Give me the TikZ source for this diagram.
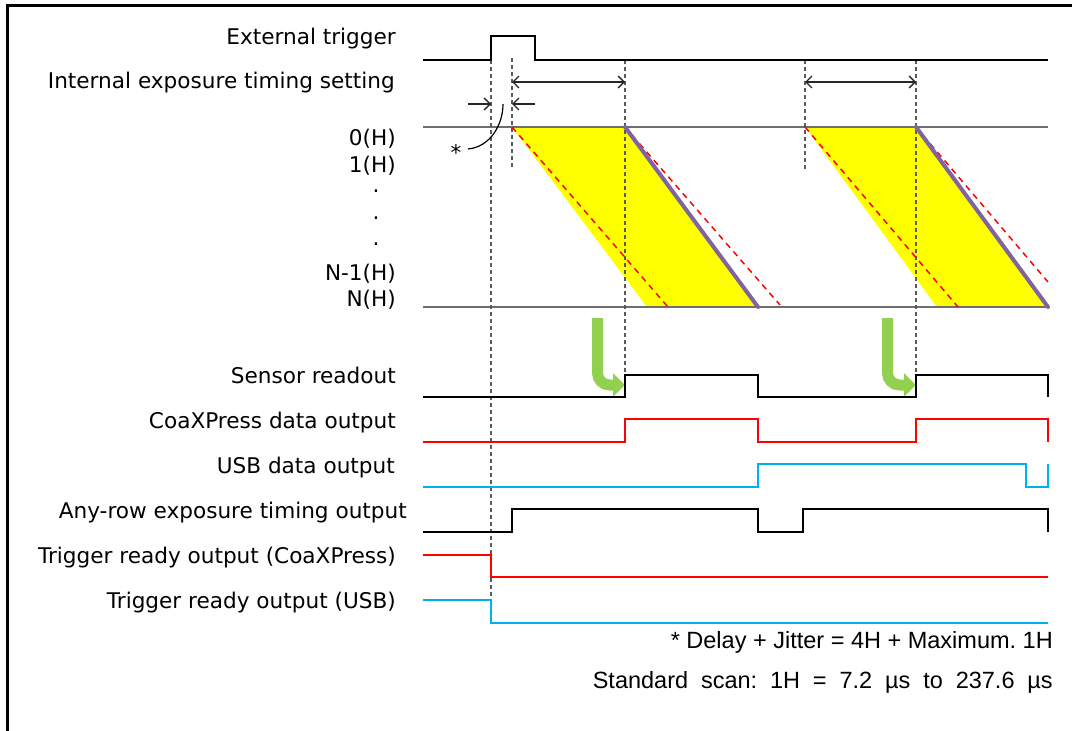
\documentclass[tikz,border=0pt]{standalone}
\usepackage{fontspec}
\setmainfont{DejaVu Sans}
\newfontfamily\arialfont{Liberation Sans}
\usetikzlibrary{arrows.meta}
\frenchspacing
\definecolor{sigred}{RGB}{255,0,0}
\definecolor{sigblue}{RGB}{0,176,240}
\definecolor{expyellow}{RGB}{255,255,0}
\definecolor{readpurple}{RGB}{128,100,162}
\definecolor{arrowgreen}{RGB}{146,208,80}
\definecolor{guidegray}{RGB}{90,90,90}
\definecolor{rowgray}{RGB}{110,110,110}
\tikzset{
  lbl/.style={font=\fontsize{21.6}{25}\selectfont, anchor=base east, inner sep=0pt},
  dotlbl/.style={font=\fontsize{21.6}{25}\selectfont, anchor=base, inner sep=0pt},
  fnote/.style={font=\arialfont\fontsize{23.5}{27}\selectfont, anchor=base east, inner sep=0pt},
  sig/.style={line width=2.5pt, line join=miter},
  guide/.style={draw=guidegray, line width=1.2pt, dash pattern=on 4pt off 3pt},
  rowline/.style={draw=rowgray, line width=1.5pt},
  reddash/.style={draw=sigred, line width=1.5pt, dash pattern=on 6pt off 5pt},
  readline/.style={draw=readpurple, line width=4pt, line cap=round},
  dimarrow/.style={line width=1.3pt, draw=black!85},
  barb/.tip={Straight Barb[length=6pt,width=12pt]},
  greenarrow/.style={draw=arrowgreen, line width=11pt, rounded corners=12pt, -{Triangle[length=12pt,width=23pt]}}
}
\begin{document}
\begin{tikzpicture}[x=1pt,y=-1pt]
\useasboundingbox (0,0) rectangle (1072,731);
% frame
\draw[line width=3pt] (7,731) -- (7,5.5) -- (1072,5.5);

% labels
\node[lbl] (lext) at (396,44) {External trigger};
\node[lbl] (lint) at (395,88) {Internal exposure timing setting};
\node[lbl] (l0) at (396,145) {0(H)};
\node[lbl] (l1) at (396,172) {1(H)};
\node[dotlbl] (d1) at (376,192) {.};
\node[dotlbl] (d2) at (376,219) {.};
\node[dotlbl] (d3) at (376,245) {.};
\node[lbl] (lN1) at (396,280) {N-1(H)};
\node[lbl] (lN) at (396,306) {N(H)};
\node[lbl] (lsr) at (396,383) {Sensor readout};
\node[lbl] (lcx) at (396,428) {CoaXPress data output};
\node[lbl] (lusb) at (395,473) {USB data output};
\node[lbl] (lany) at (407,518) {Any-row exposure timing output};
\node[lbl] (ltrc) at (396,563) {Trigger ready output (CoaXPress)};
\node[lbl] (ltru) at (396,608) {Trigger ready output (USB)};

% exposure areas
\fill[expyellow] (512,127) -- (625,127) -- (758,307) -- (647,307) -- cycle;
\fill[expyellow] (805,127) -- (916,127) -- (1048,307) -- (937,307) -- cycle;

% row lines
\draw[rowline] (423,127) -- (1048,127);
\draw[rowline] (423,307) -- (1048,307);

% guides
\draw[guide] (491,60) -- (491,600);
\draw[guide] (512,58) -- (512,170);
\draw[guide] (625,60) -- (625,375);
\draw[guide] (805,60) -- (805,170);
\draw[guide] (916,60) -- (916,375);

% red dashed and purple readout lines
\draw[reddash] (512,127) -- (668,307);
\draw[reddash] (625,127) -- (780,305);
\draw[reddash] (805,127) -- (958,307);
\draw[reddash] (916,127) -- (1048,282);
\draw[readline] (625,127) -- (758,307);
\draw[readline] (916,127) -- (1048,307);

% dimension arrows
\draw[dimarrow, barb-barb] (512,82) -- (625,82);
\draw[dimarrow, barb-barb] (805,82) -- (916,82);
\draw[dimarrow, -barb] (468,104) -- (491,104);
\draw[dimarrow, -barb] (535,104) -- (512,104);
\draw[line width=1.2pt] (468,149) .. controls (490,147) and (503,125) .. (503,104);
\node[font=\fontsize{21.6}{25}\selectfont, anchor=base, inner sep=0pt] (ast) at (456,160) {*};

% green arrows
\draw[greenarrow] (597.5,318) -- (597.5,385) -- (625,385);
\draw[greenarrow] (887.5,318) -- (887.5,385) -- (916,385);

% waveforms
\draw[sig] (423,60) -- (491,60) -- (491,36) -- (535,36) -- (535,60) -- (1048,60);
\draw[sig] (423,397) -- (625,397) -- (625,375) -- (758,375) -- (758,397) -- (916,397) -- (916,375) -- (1048,375) -- (1048,397);
\draw[sig, sigred] (423,442) -- (625,442) -- (625,419) -- (758,419) -- (758,442) -- (916,442) -- (916,419) -- (1048,419) -- (1048,442);
\draw[sig, sigblue] (423,487) -- (758,487) -- (758,464) -- (1026,464) -- (1026,487) -- (1048,487) -- (1048,464);
\draw[sig] (423,532) -- (512,532) -- (512,509) -- (758,509) -- (758,532) -- (803,532) -- (803,509) -- (1048,509) -- (1048,532);
\draw[sig, sigred] (423,555) -- (491,555) -- (491,577) -- (1048,577);
\draw[sig, sigblue] (423,600) -- (491,600) -- (491,623) -- (1048,623);

% footnotes
\node[fnote] (fn1) at (1053,648) {* Delay + Jitter = 4H + Maximum. 1H};
\node[fnote] (fn2) at (1053,688) {\makebox[460pt][s]{Standard scan: 1H = 7.2 µs to 237.6 µs}};
\end{tikzpicture}
\end{document}
